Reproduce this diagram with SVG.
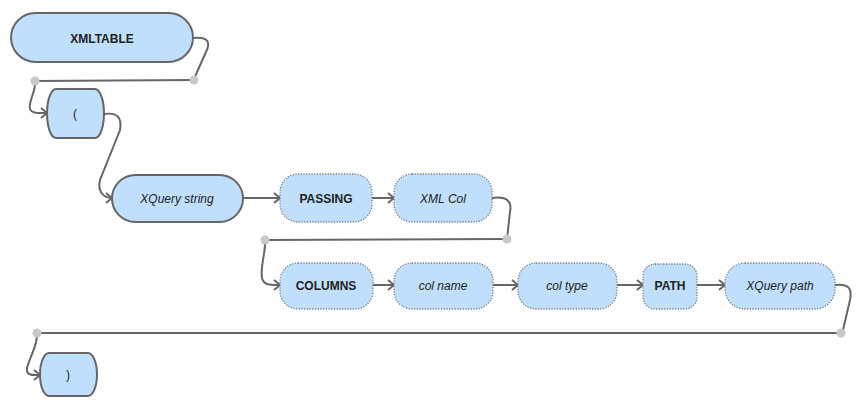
<svg xmlns="http://www.w3.org/2000/svg" width="867" height="417" viewBox="0 0 867 417">
<style>
.n{fill:#bfdffd;stroke:#666;stroke-width:2}
.d{fill:#bfdffd;stroke:#777;stroke-width:1.3;stroke-dasharray:1.2 1.5}
.c{fill:none;stroke:#666;stroke-width:2}
.t{font-family:"Liberation Sans",Arial,sans-serif;font-size:12px;fill:#222;text-anchor:middle}
.b{font-weight:bold}
.i{font-style:italic}
.dot{fill:#c8c8c8}
</style>
<defs>
<marker id="a" markerWidth="12" markerHeight="12" refX="9" refY="6" orient="auto" markerUnits="userSpaceOnUse">
<path d="M3,1 L9,6 L3,11" fill="none" stroke="#666" stroke-width="2"/>
</marker>
</defs>
<rect width="867" height="417" fill="#fff"/>
<g id="connectors">
<path class="c" d="M193,38 C210,36 210,44 206,52 L197,72 C195,77 194,79 194,80"/>
<path class="c" d="M194,80 L35,81"/>
<path class="c" d="M35,81 C36,92 28,102 30,109 C32,114 40,113 47,113" marker-end="url(#a)"/>
<path class="c" d="M104,114 C118,112 122,118 120,130 L100,180 C97,192 104,198 112,198" marker-end="url(#a)"/>
<path class="c" d="M243,198 L280,198" marker-end="url(#a)"/>
<path class="c" d="M372,198 L394,198" marker-end="url(#a)"/>
<path class="c" d="M492,198 C508,196 512,202 510,212 L507,239"/>
<path class="c" d="M507,239 L265,240"/>
<path class="c" d="M265,240 C266,252 260,266 262,278 C264,286 272,285 280,285" marker-end="url(#a)"/>
<path class="c" d="M373,285 L394,285" marker-end="url(#a)"/>
<path class="c" d="M493,285 L518,285" marker-end="url(#a)"/>
<path class="c" d="M617,285 L643,285" marker-end="url(#a)"/>
<path class="c" d="M697,285 L725,285" marker-end="url(#a)"/>
<path class="c" d="M835,285 C850,283 852,290 850,300 L843,330"/>
<path class="c" d="M841,333 L37,333"/>
<path class="c" d="M37,333 C38,345 30,356 27,368 C26,376 33,375 40,375" marker-end="url(#a)"/>
<circle class="dot" cx="194" cy="80" r="4.5"/>
<circle class="dot" cx="35" cy="81" r="4.5"/>
<circle class="dot" cx="507" cy="239" r="4.5"/>
<circle class="dot" cx="265" cy="240" r="4.5"/>
<circle class="dot" cx="841" cy="333" r="4.5"/>
<circle class="dot" cx="37" cy="333" r="4.5"/>
</g>
<g id="xmltable">
<rect class="n" x="11" y="13" width="182" height="49" rx="24.5"/>
<text class="t b" x="102" y="43">XMLTABLE</text>
</g>
<g id="lparen">
<path class="n" d="M56,89 L95,89 A9,24.5 0 0 1 95,138 L56,138 A9,24.5 0 0 1 56,89 Z"/>
<text class="t" x="75" y="118">(</text>
</g>
<g id="xquerystring">
<rect class="n" x="112" y="175" width="131" height="47" rx="23.5"/>
<text class="t i" x="177" y="203">XQuery string</text>
</g>
<g id="passing">
<rect class="d" x="280" y="174" width="92" height="48" rx="18"/>
<text class="t b" x="326" y="203">PASSING</text>
</g>
<g id="xmlcol">
<rect class="d" x="394" y="174" width="98" height="48" rx="18"/>
<text class="t i" x="443" y="203">XML Col</text>
</g>
<g id="columns">
<rect class="d" x="280" y="263" width="93" height="46" rx="18"/>
<text class="t b" x="326" y="290">COLUMNS</text>
</g>
<g id="colname">
<rect class="d" x="394" y="263" width="99" height="46" rx="18"/>
<text class="t i" x="443" y="290">col name</text>
</g>
<g id="coltype">
<rect class="d" x="518" y="263" width="99" height="46" rx="18"/>
<text class="t i" x="567" y="290">col type</text>
</g>
<g id="path">
<rect class="d" x="643" y="264" width="54" height="45" rx="12"/>
<text class="t b" x="670" y="290">PATH</text>
</g>
<g id="xquerypath">
<rect class="d" x="725" y="263" width="110" height="46" rx="20"/>
<text class="t i" x="780" y="290">XQuery path</text>
</g>
<g id="rparen">
<path class="n" d="M49,353 L88,353 A9,21.5 0 0 1 88,396 L49,396 A9,21.5 0 0 1 49,353 Z"/>
<text class="t" x="68" y="379">)</text>
</g>
</svg>
